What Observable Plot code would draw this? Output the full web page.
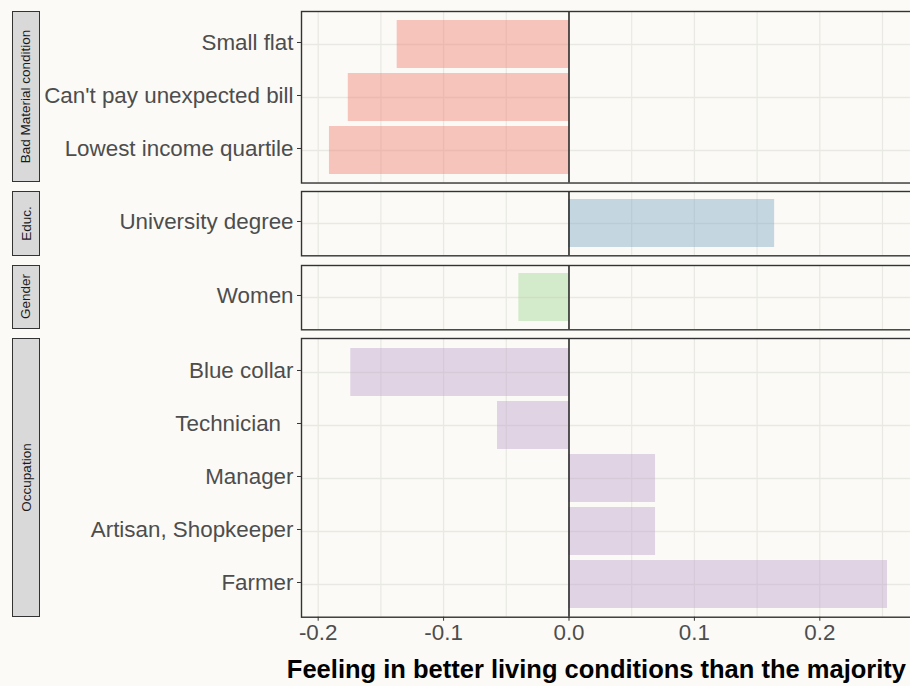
<!DOCTYPE html>
<html><head><meta charset="utf-8">
<script src="https://cdn.jsdelivr.net/npm/d3@7"></script>
<script src="https://cdn.jsdelivr.net/npm/@observablehq/plot@0.6"></script>
<style>
html,body{margin:0;padding:0;background:#fbfaf6;overflow:hidden;}
#chart{position:relative;width:910px;height:686px;overflow:hidden;font-family:"Liberation Sans",Arial,sans-serif;background:#fbfaf6;}
#chart svg{position:absolute;left:0;}
.strip{position:absolute;left:12px;width:28px;box-sizing:border-box;background:#d9d9d9;border:1.4px solid #333;display:flex;align-items:center;justify-content:center;}
.strip span{transform:rotate(-90deg);white-space:nowrap;font-size:13.5px;color:#1a1a1a;}
#xtitle{position:absolute;right:4px;top:655px;font-weight:bold;font-size:25.5px;color:#000;white-space:nowrap;}
</style></head><body><div id="chart"></div><script>
// ---- data ----
const groups = ["Bad Material condition", "Educ.", "Gender", "Occupation"];
const categories = ["Small flat", "Can't pay unexpected bill", "Lowest income quartile",
  "University degree", "Women",
  "Blue collar", "Technician  ", "Manager", "Artisan, Shopkeeper", "Farmer"];
const categoryGroup = ["Bad Material condition", "Bad Material condition", "Bad Material condition",
  "Educ.", "Gender",
  "Occupation", "Occupation", "Occupation", "Occupation", "Occupation"];
const values = [-0.137, -0.176, -0.191, 0.164, -0.040, -0.174, -0.057, 0.069, 0.069, 0.254];
const groupColors = ["#f17365", "#74a2c4", "#9cd48d", "#ba9bcb"];
const xTicks = [-0.2, -0.1, 0, 0.1, 0.2];
const xMinorTicks = [-0.15, -0.05, 0.05, 0.15, 0.25];
const xTitle = "Feeling in better living conditions than the majority";

// ---- layout ----
(function () {
  const chart = document.getElementById("chart");
  const step = 53.6, gap = 9.0, firstTop = 10.7, mt = 3;
  const gridColor = "#e9e9e3";
  const fmtCat = d => d.replace(/ +$/, m => "\u00a0".repeat(m.length));
  let panelTop = firstTop;
  groups.forEach((g, gi) => {
    const rows = categories.map((c, i) => ({category: c, value: values[i], group: categoryGroup[i]}))
      .filter(d => d.group === g);
    const cats = rows.map(d => d.category);
    const h = step * (cats.length + 0.2);
    const last = gi === groups.length - 1;
    const mb = last ? 40 : 3;
    const plot = Plot.plot({
      width: 915, height: h + mt + mb,
      marginLeft: 301, marginRight: 0, marginTop: mt, marginBottom: mb,
      style: {background: "transparent", maxWidth: "none", overflow: "visible", fontFamily: "'Liberation Sans', Arial, sans-serif"},
      x: {domain: [-0.2133, 0.2763], axis: null, label: null},
      y: {domain: cats, paddingInner: 0.1, paddingOuter: 0.15, axis: null, label: null},
      marks: [
        Plot.ruleX(xMinorTicks, {stroke: gridColor, strokeWidth: 1.2}),
        Plot.ruleX(xTicks, {stroke: gridColor, strokeWidth: 1.3}),
        Plot.gridY({stroke: gridColor, strokeOpacity: 1, strokeWidth: 1.3}),
        Plot.barX(rows, {x: "value", y: "category", fill: groupColors[gi], fillOpacity: 0.4}),
        Plot.ruleX([0], {stroke: "#111", strokeWidth: 1.4}),
        Plot.frame({stroke: "#333", strokeWidth: 1.4}),
        Plot.axisY({label: null, tickSize: 4, tickPadding: 4, fontSize: 22.4, stroke: "#333", fill: "#4d4d4d", dy: -2, tickFormat: fmtCat}),
        last ? Plot.axisX(xTicks, {label: null, tickSize: 4, tickPadding: 3, fontSize: 22.4, stroke: "#333", fill: "#4d4d4d", tickFormat: d => d.toFixed(1)}) : null
      ]
    });
    plot.style.top = (panelTop - mt) + "px";
    chart.appendChild(plot);
    const strip = document.createElement("div");
    strip.className = "strip";
    strip.style.top = panelTop + "px";
    strip.style.height = h + "px";
    const span = document.createElement("span");
    span.textContent = g;
    strip.appendChild(span);
    chart.appendChild(strip);
    panelTop += h + gap;
  });
  const t = document.createElement("div");
  t.id = "xtitle";
  t.textContent = xTitle;
  chart.appendChild(t);
})();
</script></body></html>
